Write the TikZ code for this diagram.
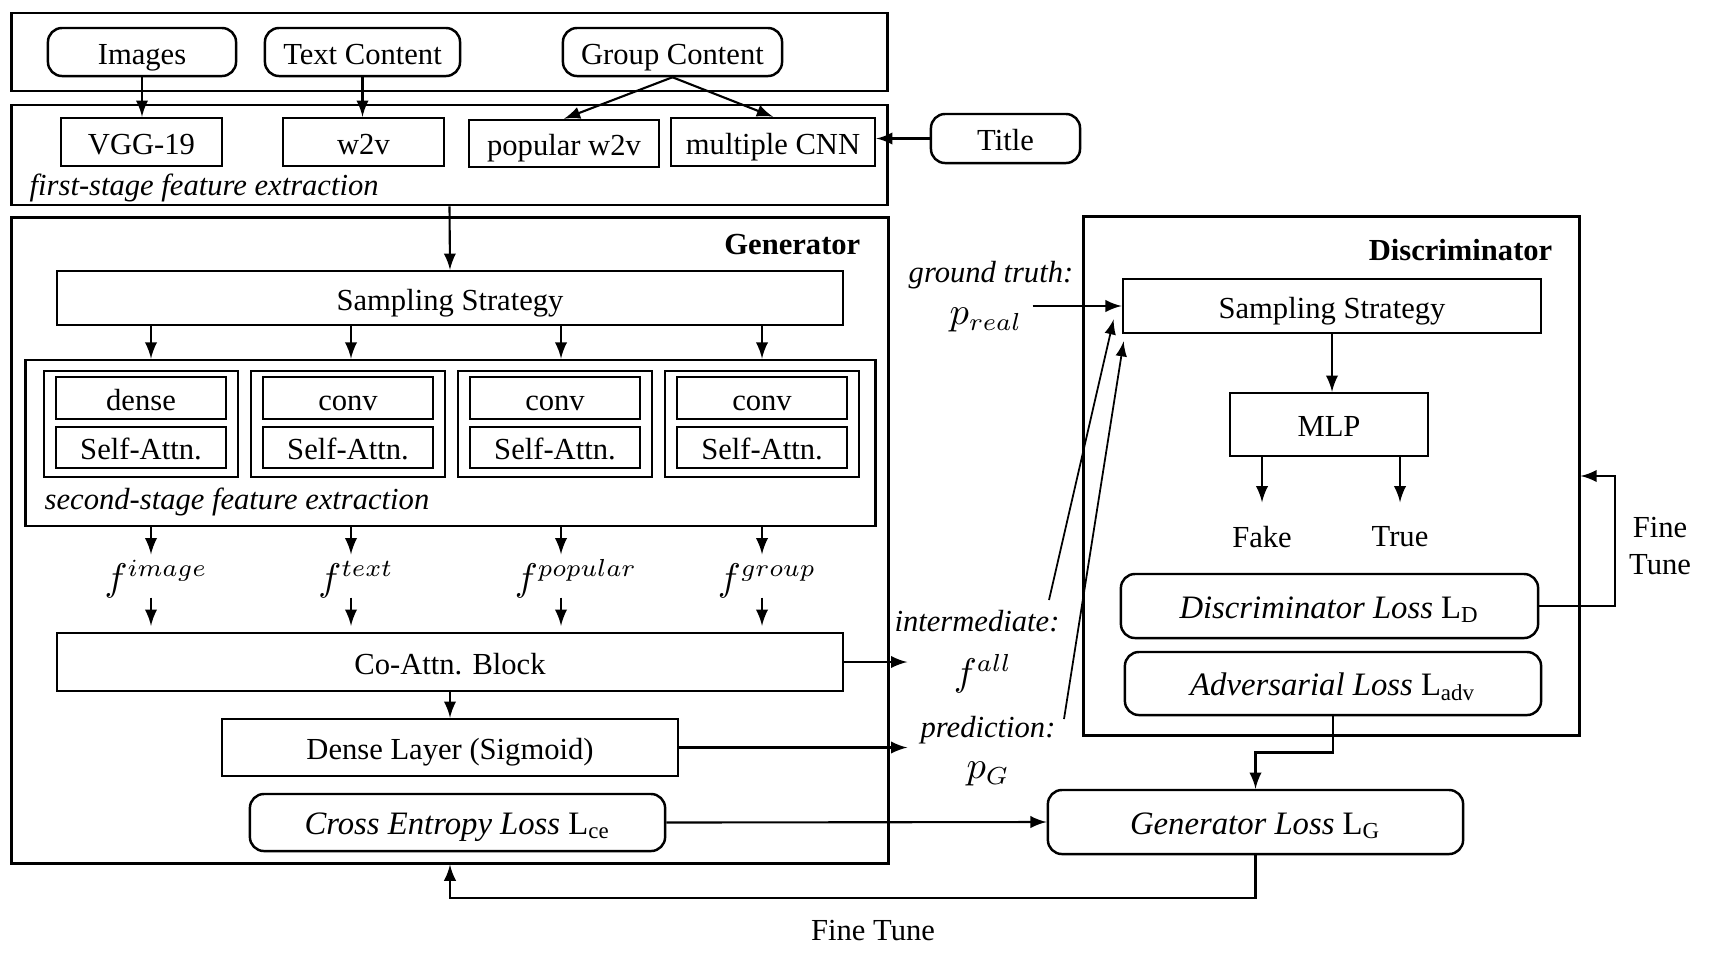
\documentclass[tikz,border=0pt]{standalone}
\usepackage{fontspec}
\setmainfont{Liberation Serif}
\usetikzlibrary{arrows,calc}

\newcommand\mainsz{\fontsize{8.7}{10.4}\selectfont}
\newcommand\losssz{\fontsize{9.3}{11}\selectfont}
\newcommand\mathsz{\fontsize{10.5}{12}\selectfont}

\begin{document}
\begin{tikzpicture}[x=0.01cm,y=-0.01cm,
  frame/.style={draw,line width=0.8pt,inner sep=0pt},
  box/.style={draw,line width=0.7pt,inner sep=0pt,font=\mainsz,text height=1.5ex,text depth=0pt},
  rbox/.style={box,rounded corners=4pt},
  lbox/.style={rbox,font=\losssz},
  lab/.style={inner sep=0pt,font=\mainsz},
  itlab/.style={inner sep=0pt,font=\mainsz\itshape},
  mlab/.style={inner sep=0pt,font=\mathsz},
  arr/.style={-latex,line width=0.6pt}]

\useasboundingbox (0,0) rectangle (1712,960);
\fill[white] (0,0) rectangle (1712,960);

% frames
\node[frame,minimum width=8.75cm,minimum height=0.78cm] (top) at (449.5,52) {};
\node[frame,minimum width=8.75cm,minimum height=1.00cm] (fse) at (449.5,155) {};
\node[frame,minimum width=8.76cm,minimum height=6.45cm] (gen) at (450,540.5) {};
\node[frame,minimum width=8.49cm,minimum height=1.66cm] (sse) at (450.5,443) {};
\node[frame,minimum width=4.95cm,minimum height=5.18cm] (dis) at (1331.5,476) {};

% inputs
\node[rbox,minimum width=1.88cm,minimum height=0.48cm] (img) at (142,52) {Images};
\node[rbox,minimum width=1.95cm,minimum height=0.48cm] (txt) at (362.5,52) {Text Content};
\node[rbox,minimum width=2.19cm,minimum height=0.48cm] (grp) at (672.5,52) {Group Content};

% first stage
\node[box,minimum width=1.61cm,minimum height=0.48cm] (vgg) at (141.5,142) {VGG-19};
\node[box,minimum width=1.61cm,minimum height=0.48cm] (wtv) at (363.5,142) {w2v};
\node[box,minimum width=1.90cm,minimum height=0.47cm] (pop) at (564,143.5) {popular w2v};
\node[box,minimum width=2.04cm,minimum height=0.48cm] (cnn) at (773,142) {multiple CNN};
\node[rbox,minimum width=1.49cm,minimum height=0.49cm] (title) at (1005.5,138.5) {Title};
\node[itlab,anchor=west] (fsel) at (29,188) {first-stage feature extraction};

% generator
\node[lab,font=\mainsz\bfseries,anchor=east] (genl) at (861,245) {Generator};
\node[box,minimum width=7.86cm,minimum height=0.54cm] (gss) at (450,298) {Sampling Strategy};
\foreach \x/\t/\k in {141/dense/1,348/conv/2,555/conv/3,762/conv/4}
{
\node[box,minimum width=1.94cm,minimum height=1.06cm] (st\k) at (\x,424) {};
\node[box,minimum width=1.70cm,minimum height=0.42cm] (lay\k) at (\x,398) {\t};
\node[box,minimum width=1.70cm,minimum height=0.41cm] (sa\k) at (\x,447.5) {Self-Attn.};
}
\node[itlab,anchor=west] (ssel) at (44,502) {second-stage feature extraction};
\node[box,minimum width=7.86cm,minimum height=0.58cm] (coa) at (450,662) {Co-Attn. Block};
\node[box,minimum width=4.56cm,minimum height=0.57cm] (dense) at (450,747.5) {Dense Layer (Sigmoid)};
\node[lbox,minimum width=4.15cm,minimum height=0.57cm] (ce) at (457.5,822.5) {\textit{Cross Entropy Loss} L\textsubscript{ce}};

% discriminator
\node[lab,font=\mainsz\bfseries,anchor=east] (disl) at (1553,250) {Discriminator};
\node[box,minimum width=4.18cm,minimum height=0.54cm] (dss) at (1332,306) {Sampling Strategy};
\node[box,minimum width=1.98cm,minimum height=0.63cm] (mlp) at (1329,424.5) {MLP};
\node[lab,minimum height=0.68cm] (fake) at (1262,537) {Fake};
\node[lab,minimum height=0.68cm] (true) at (1400,537) {True};
\node[lbox,minimum width=4.17cm,minimum height=0.64cm] (dloss) at (1329.5,606) {\textit{Discriminator Loss} L\textsubscript{D}};
\node[lbox,minimum width=4.16cm,minimum height=0.63cm] (aloss) at (1333,683.5) {\textit{Adversarial Loss} L\textsubscript{adv}};
\node[lbox,minimum width=4.15cm,minimum height=0.64cm] (gloss) at (1255.5,822) {\textit{Generator Loss} L\textsubscript{G}};

% labels between
\node[itlab] (gtl) at (991,275) {ground truth:};
\node[mlab,minimum width=0.92cm] (preal) at (986,320) {$p_{real}$};
\node[itlab] (intl) at (977,621) {intermediate:};
\node[mlab,minimum width=1.50cm] (fall) at (983,674) {$f^{all}$};
\node[itlab] (predl) at (988,730) {prediction:};
\node[mlab,minimum width=1.60cm] (pg) at (988,774) {$p_G$};
\node[lab,align=center,font=\fontsize{8.7}{10.3}\selectfont] (ftr) at (1660,546) {Fine\\Tune};
\node[lab] (ftb) at (873,931) {Fine Tune};

\coordinate (ia) at (1049,600);
\coordinate (pa) at (1064,719);

% connectors
\draw[arr] (img.south) -- (img.south |- vgg.north);
\draw[arr] (txt.south) -- (txt.south |- wtv.north);
\draw[arr] (grp.south) -- (pop.north);
\draw[arr] (grp.south) -- (cnn.north);
\draw[arr] (title.west) -- (title.west -| cnn.east);
\draw[arr] (fse.south) -- (gss.north);

\foreach \x/\s/\d/\k in {151/image/5/1,351/text/5/2,561/popular/15/3,762/group/5/4}
{
\coordinate (col\k) at (\x,576);
\node[mlab,text height=0.35cm,text depth=0.07cm] (f\k) at (\x+\d,576) {$f^{\s}$};
\draw[arr] (col\k |- gss.south) -- (col\k |- sse.north);
\draw[arr] (col\k |- sse.south) -- (col\k |- f\k.north);
\draw[arr,shorten >=1.7pt] (col\k |- f\k.south) -- (col\k |- coa.north);
}

\draw[arr] (coa.south) -- (dense.north);
\draw[arr] (coa.east) -- (coa.east -| fall.west);
\draw[arr] (dense.east) -- (dense.east -| pg.west);
\draw[arr] (ce.east) -- (gloss.west);

\draw[arr] (preal.east |- dss.west) -- (dss.west);
\draw[arr,line width=0.5pt] (ia) -- ($(dss.south west)+(-8,-15)$);
\draw[arr,line width=0.5pt] (pa) -- ($(dss.south west)+(2,7)$);
\draw[arr] (dss.south) -- (dss.south |- mlp.north);
\draw[arr] (fake |- mlp.south) -- (fake.north);
\draw[arr] (true |- mlp.south) -- (true.north);

\draw[arr] (dloss.east) -- ++(76,0) |- (dis.east);
\draw[arr] (aloss.south) |- ($(aloss.south)!.5!(gloss.north)$) -| (gloss.north);
\draw[arr] (gloss.south) -- ++(0,43) -| (gen.south);
\end{tikzpicture}
\end{document}
